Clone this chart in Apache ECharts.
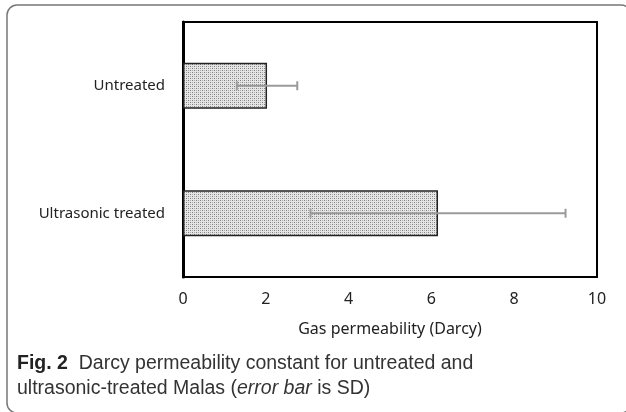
<!DOCTYPE html>
<html>
<head>
<meta charset="utf-8">
<script src="https://cdn.jsdelivr.net/npm/echarts@6/dist/echarts.min.js"></script>
<style>
html,body{margin:0;padding:0;background:#fff;}
#chart{width:626px;height:412px;}
</style>
</head>
<body>
<div id="chart"></div>
<script>
var categories = ['Ultrasonic treated', 'Untreated'];
var values = [6.16, 2.03];
var sdValues = [3.08, 0.73];
var xTicks = [0, 2, 4, 6, 8, 10];

function makePattern() {
  var c = document.createElement('canvas');
  c.width = 4; c.height = 4;
  var ctx = c.getContext('2d');
  ctx.fillStyle = '#e6e6e6';
  ctx.fillRect(0, 0, 4, 4);
  ctx.fillStyle = '#7e7e7e';
  ctx.fillRect(0, 0, 1, 1);
  ctx.fillRect(2, 2, 1, 1);
  ctx.fillStyle = '#aaaaaa';
  ctx.fillRect(2, 0, 1, 1);
  ctx.fillRect(0, 2, 1, 1);
  return c;
}

var errData = categories.map(function (c, i) {
  return [i, values[i] - sdValues[i], values[i] + sdValues[i]];
});

var chart = echarts.init(document.getElementById('chart'));
var font = '"Noto Sans", sans-serif';
var capFont = '"Liberation Sans Narrow", "Liberation Sans", sans-serif';
chart.setOption({
  animation: false,
  grid: {
    left: 183, right: 29, top: 22, bottom: 135,
    show: true, borderColor: '#000', borderWidth: 2, backgroundColor: 'transparent'
  },
  xAxis: {
    type: 'value', min: 0, max: 10, interval: 2,
    axisLine: { show: true, lineStyle: { color: '#000', width: 2 } },
    axisTick: { show: false },
    splitLine: { show: false },
    axisLabel: { color: '#222', fontSize: 16, fontFamily: font, margin: 14,
      formatter: function (v) { return xTicks.indexOf(v) >= 0 ? String(v) : ''; } },
    name: 'Gas permeability (Darcy)',
    nameLocation: 'middle', nameGap: 44,
    nameTextStyle: { color: '#222', fontSize: 16, fontFamily: font }
  },
  yAxis: {
    type: 'category', data: categories,
    axisLine: { show: true, lineStyle: { color: '#000', width: 3 } },
    axisTick: { show: false },
    axisLabel: { color: '#222', fontSize: 15, fontFamily: font, margin: 18 }
  },
  series: [
    {
      type: 'bar', data: values, barWidth: 46,
      itemStyle: { color: { image: makePattern(), repeat: 'repeat' }, borderColor: '#222', borderWidth: 1.5 },
      z: 2
    },
    {
      type: 'custom', data: errData, z: 5,
      renderItem: function (params, api) {
        var y = api.value(0);
        var p1 = api.coord([api.value(1), y]);
        var p2 = api.coord([api.value(2), y]);
        var h = 4.5;
        var st = { stroke: '#9a9a9a', lineWidth: 2 };
        return {
          type: 'group',
          children: [
            { type: 'line', shape: { x1: p1[0], y1: p1[1], x2: p2[0], y2: p2[1] }, style: st },
            { type: 'line', shape: { x1: p1[0], y1: p1[1] - h, x2: p1[0], y2: p1[1] + h }, style: st },
            { type: 'line', shape: { x1: p2[0], y1: p2[1] - h, x2: p2[0], y2: p2[1] + h }, style: st }
          ]
        };
      }
    }
  ],
  graphic: [
    {
      type: 'rect', shape: { x: 7, y: 5, width: 624, height: 408, r: 10 },
      style: { fill: 'none', stroke: '#777', lineWidth: 1.5 }, silent: true
    },
    {
      type: 'text', left: 17, top: 351,
      style: {
        text: '{b|Fig. 2}  Darcy permeability constant for untreated and\nultrasonic-treated Malas ({i|error bar} is SD)',
        fill: '#333', font: '19.5px ' + capFont, lineHeight: 25,
        rich: {
          b: { fontWeight: 'bold', fontSize: 19.5, fontFamily: capFont, fill: '#222' },
          i: { fontStyle: 'italic', fontSize: 19.5, fontFamily: capFont, fill: '#333' }
        }
      }
    }
  ]
});
</script>
</body>
</html>
